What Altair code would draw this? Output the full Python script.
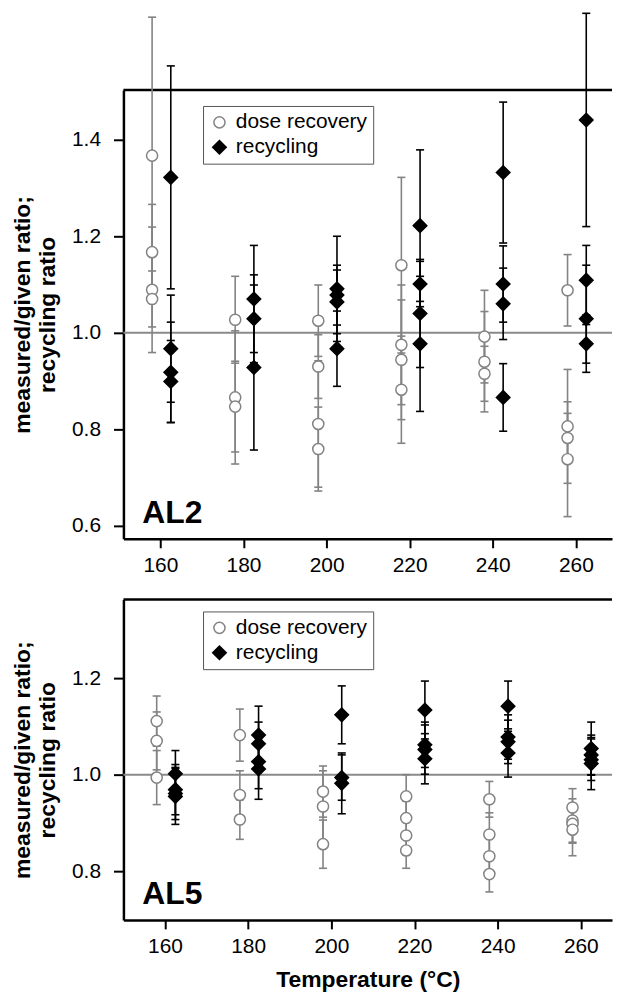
import altair as alt
import pandas as pd

TEMPS = [160, 180, 200, 220, 240, 260]
SERIES = ["dose recovery", "recycling"]

# AL2 (top panel): values and symmetric errors per temperature
al2_dose_val = [[1.367, 1.167, 1.089, 1.070], [1.027, 0.866, 0.847], [1.025, 0.930, 0.811, 0.759],
                [1.140, 0.975, 0.944, 0.882], [0.992, 0.940, 0.915], [1.088, 0.806, 0.782, 0.738]]
al2_dose_err = [[0.287, 0.099, 0.130, 0.058], [0.090, 0.138, 0.094], [0.074, 0.066, 0.131, 0.087],
                [0.182, 0.124, 0.124, 0.111], [0.096, 0.104, 0.057], [0.074, 0.118, 0.051, 0.119]]
al2_rec_val = [[1.322, 0.967, 0.918, 0.899], [1.070, 1.029, 0.928], [1.091, 1.078, 1.064, 0.967],
               [1.222, 1.101, 1.040, 0.977], [1.332, 1.101, 1.060, 0.866], [1.441, 1.109, 1.029, 0.977]]
al2_rec_err = [[0.231, 0.111, 0.104, 0.085], [0.111, 0.091, 0.171], [0.109, 0.062, 0.066, 0.078],
               [0.157, 0.047, 0.112, 0.140], [0.146, 0.079, 0.074, 0.070], [0.221, 0.072, 0.111, 0.040]]

# AL5 (bottom panel)
al5_dose_val = [[1.111, 1.070, 0.994], [1.082, 0.958, 0.907], [0.965, 0.934, 0.856],
                [0.955, 0.910, 0.874, 0.843], [0.949, 0.876, 0.831, 0.794], [0.932, 0.905, 0.898, 0.886]]
al5_dose_err = [[0.052, 0.060, 0.056], [0.054, 0.050, 0.041], [0.053, 0.074, 0.050],
                [0.045, 0.035, 0.040, 0.037], [0.037, 0.045, 0.040, 0.037], [0.039, 0.045, 0.040, 0.054]]
al5_rec_val = [[1.002, 0.969, 0.961, 0.955], [1.082, 1.064, 1.027, 1.012], [1.124, 0.994, 0.982],
               [1.134, 1.062, 1.052, 1.033], [1.142, 1.078, 1.068, 1.045], [1.054, 1.041, 1.031, 1.023]]
al5_rec_err = [[0.048, 0.052, 0.054, 0.058], [0.060, 0.045, 0.056, 0.063], [0.060, 0.047, 0.063],
               [0.060, 0.047, 0.051, 0.052], [0.052, 0.046, 0.045, 0.050], [0.055, 0.041, 0.043, 0.054]]

OFFSET = {"dose recovery": -2.0, "recycling": 2.5}
CAP_HALF = 0.97  # half-width of error-bar caps, in temperature units


def build_df(dose_val, dose_err, rec_val, rec_err):
    rows = []
    for name, vals, errs in [(SERIES[0], dose_val, dose_err), (SERIES[1], rec_val, rec_err)]:
        for t, vs, es in zip(TEMPS, vals, errs):
            for v, e in zip(vs, es):
                x = t + OFFSET[name]
                rows.append({"temp": t, "xpos": x, "xl": x - CAP_HALF, "xr": x + CAP_HALF,
                             "series": name, "value": v, "lo": v - e, "hi": v + e})
    return pd.DataFrame(rows)


FONT = "Liberation Sans"
GRAY = "#838383"
W = 491

stroke_scale = alt.Scale(domain=SERIES, range=[GRAY, "black"])
fill_scale = alt.Scale(domain=SERIES, range=["white", "black"])
shape_scale = alt.Scale(domain=SERIES, range=["circle", "diamond"])
size_scale = alt.Scale(domain=SERIES, range=[125, 185])


def panel(df, xdom, ydom, yvals, height, label, xtitle, legend_y):
    xenc = alt.X("xpos:Q", scale=alt.Scale(domain=xdom, nice=False, zero=False),
                 axis=alt.Axis(values=TEMPS, tickSize=9, labelPadding=7,
                               titlePadding=12, titleFontSize=23, titleFontWeight="bold"),
                 title=xtitle)
    yscale = alt.Scale(domain=ydom, nice=False, zero=False)
    yaxis = alt.Axis(values=yvals, format=".1f", tickSize=10, labelPadding=13,
                     titleFontSize=23, titleFontWeight="bold", titlePadding=12,
                     titleLineHeight=25)
    leg = alt.Legend(title=None, orient="none", legendX=80, legendY=legend_y,
                     strokeColor="#555555", padding=6, rowPadding=3, labelFontSize=21,
                     labelFont=FONT, symbolStrokeWidth=1.5, labelOffset=6,
                     fillColor="white", labelColor="black")
    stk = alt.Stroke("series:N", scale=stroke_scale, legend=leg)
    base = alt.Chart(df)
    frame = alt.Chart(pd.DataFrame({"f": [0]})).mark_rule(color="black", strokeWidth=2.5).encode(
        x=alt.value(0), x2=alt.value(W), y=alt.value(0))
    ref = alt.Chart(pd.DataFrame({"ref": [1.0]})).mark_rule(color="#8a8a8a", strokeWidth=2).encode(
        y=alt.Y("ref:Q", scale=yscale))
    rules = base.mark_rule(strokeWidth=1.6, clip=False).encode(
        x=xenc,
        y=alt.Y("lo:Q", scale=yscale, axis=yaxis,
                title=["measured/given ratio;", "recycling ratio"]),
        y2="hi:Q", stroke=stk)
    cap_lo = base.mark_rule(strokeWidth=1.6, clip=False).encode(
        x="xl:Q", x2="xr:Q", y="lo:Q", stroke=stk)
    cap_hi = base.mark_rule(strokeWidth=1.6, clip=False).encode(
        x="xl:Q", x2="xr:Q", y="hi:Q", stroke=stk)
    pts = base.mark_point(filled=True, strokeWidth=1.5, opacity=1, clip=False).encode(
        x="xpos:Q", y="value:Q",
        fill=alt.Fill("series:N", scale=fill_scale, legend=leg),
        stroke=stk,
        shape=alt.Shape("series:N", scale=shape_scale, legend=leg),
        size=alt.Size("series:N", scale=size_scale, legend=leg))
    txt = alt.Chart(pd.DataFrame({"t": [label]})).mark_text(
        align="left", baseline="alphabetic", fontSize=32, fontWeight="bold", font=FONT,
        color="black").encode(x=alt.value(19), y=alt.value(height - 16), text="t:N")
    return alt.layer(frame, ref, rules, cap_lo, cap_hi, pts, txt).properties(width=W, height=height)


top = panel(build_df(al2_dose_val, al2_dose_err, al2_rec_val, al2_rec_err),
            [151.1, 268.7], [0.573, 1.503], [0.6, 0.8, 1.0, 1.2, 1.4], 451, "AL2", None, 16)
bottom = panel(build_df(al5_dose_val, al5_dose_err, al5_rec_val, al5_rec_err),
               [150.0, 267.5], [0.699, 1.363], [0.8, 1.0, 1.2], 322, "AL5",
               "Temperature (°C)", 12)

chart = alt.vconcat(top, bottom, spacing=22).resolve_scale(
    x="independent", y="independent",
    fill="independent", stroke="independent", shape="independent", size="independent"
).properties(
    padding={"top": 2, "left": 3, "right": 0, "bottom": 0}, background="white"
).configure_view(stroke=None).configure_axis(
    domainColor="black", domainWidth=2.5, tickColor="black", tickWidth=2,
    labelFont=FONT, titleFont=FONT, labelFontSize=21, labelColor="black",
    titleColor="black", grid=False
)

chart.save("out.html", embed_options={"renderer": "svg", "actions": False})
